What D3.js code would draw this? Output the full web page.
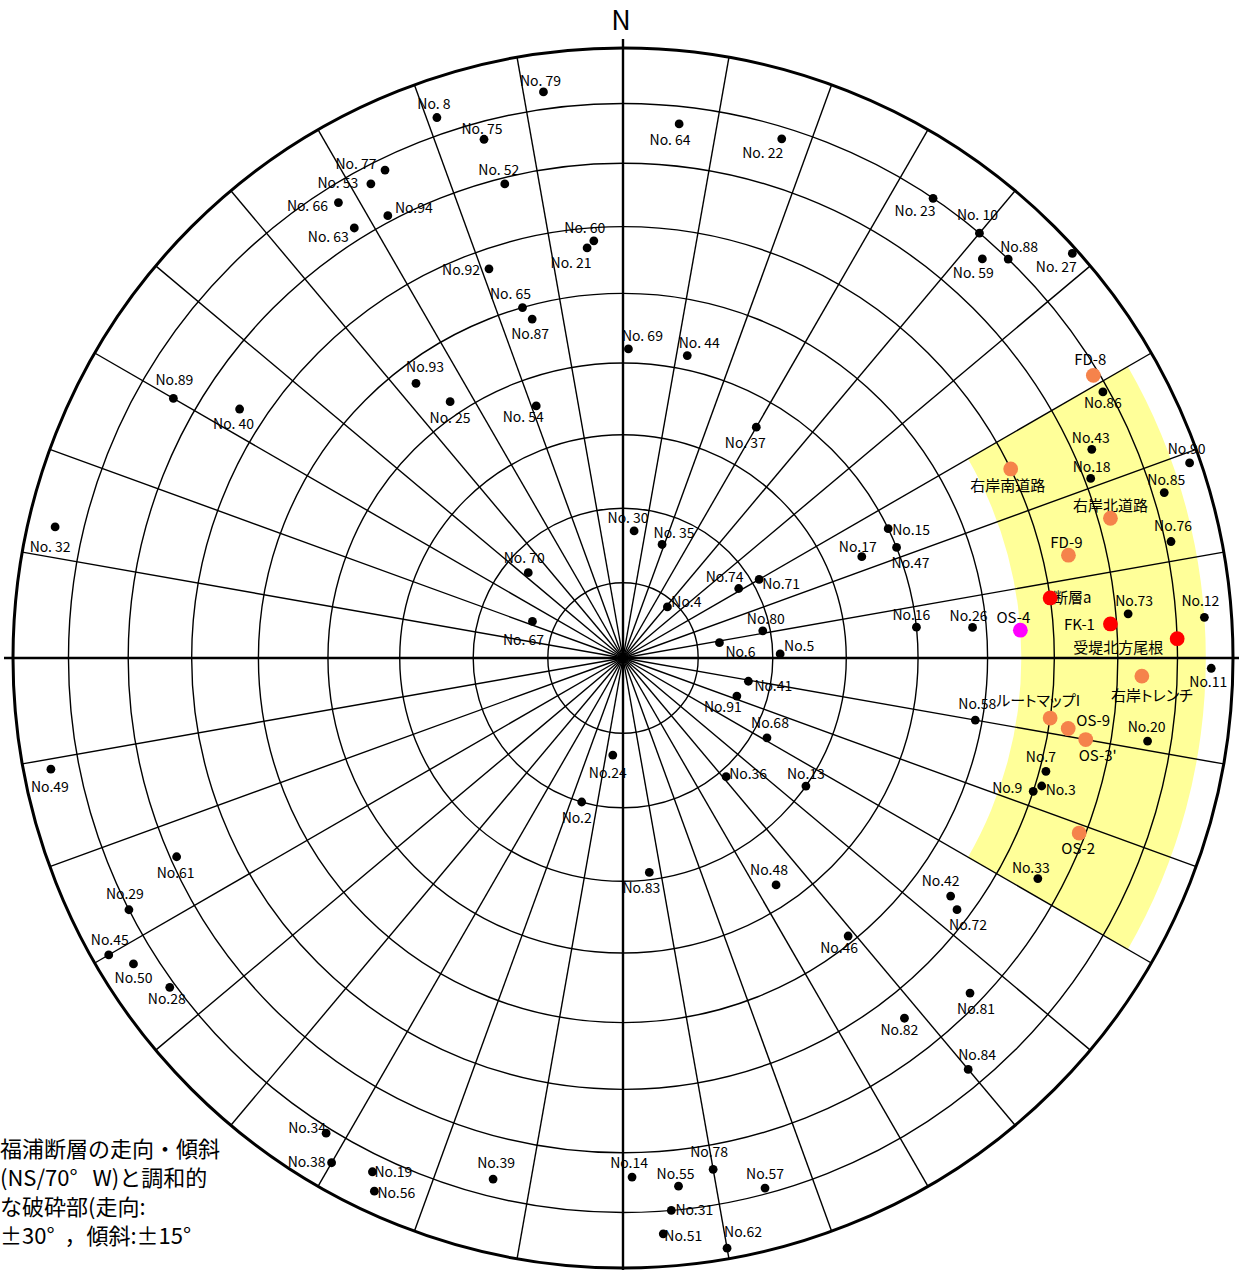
<!DOCTYPE html>
<html>
<head>
<meta charset="utf-8">
<script src="https://cdn.jsdelivr.net/npm/d3@7"></script>
<style>
  body { margin: 0; background: #fff; }
  svg { display: block; }
  text { font-family: "Noto Sans CJK JP", "Noto Sans", sans-serif; fill: #000; }
</style>
</head>
<body>
<svg id="net" width="1239" height="1270"></svg>
<script>
// Poles of fracture planes: [label, pole trend (deg, clockwise from N), dip (deg) = angle from the centre]
const blackPoles = [
  ["No. 79", 352, 83], ["No. 8", 341, 83], ["No. 75", 345, 77], ["No. 77", 334, 78],
  ["No. 53", 332, 77], ["No. 66", 328, 77], ["No. 63", 328, 72], ["No.94", 332, 71],
  ["No. 52", 346, 69], ["No. 60", 356, 58], ["No. 21", 355, 57], ["No.92", 341, 57],
  ["No. 65", 344, 50], ["No.87", 345, 48], ["No.93", 323, 47], ["No. 25", 326, 42],
  ["No. 54", 341, 36], ["No. 64", 6, 77], ["No. 22", 17, 78], ["No. 69", 1, 42],
  ["No. 44", 12, 42], ["No. 23", 34, 80], ["No. 10", 40, 80], ["No. 59", 42, 77],
  ["No.88", 44, 80], ["No. 27", 48, 89], ["No.86", 61, 79], ["No.89", 300, 74],
  ["No. 40", 303, 64], ["No. 32", 283, 85], ["No.49", 259, 85], ["No. 70", 312, 17],
  ["No. 67", 292, 13], ["No.24", 186, 13], ["No.2", 196, 20], ["No. 37", 30, 36],
  ["No. 30", 5, 17], ["No. 35", 19, 16], ["No.74", 59, 18], ["No.71", 60, 21],
  ["No.4", 41, 9], ["No.80", 79, 19], ["No.6", 81, 13], ["No.5", 88.5, 21],
  ["No.41", 100.5, 17], ["No.91", 108.5, 16], ["No.68", 119, 22], ["No.36", 139, 21],
  ["No.13", 125, 30], ["No.15", 64, 40], ["No.47", 68, 40], ["No.17", 67, 35],
  ["No.16", 84, 40], ["No.43", 66, 73], ["No.18", 69, 71], ["No.90", 71, 88],
  ["No.85", 73, 82], ["No.76", 78, 81], ["No.73", 85, 72], ["No.12", 86, 85],
  ["No.26", 85, 48], ["No.11", 91, 86], ["No.58", 100, 49], ["No.20", 99, 76],
  ["No.7", 105, 61], ["No.3", 107, 61], ["No.9", 108, 60], ["No.61", 246, 69],
  ["No.29", 243, 80], ["No.45", 240, 87], ["No.50", 238, 84], ["No.28", 234, 81],
  ["No.34", 212, 81], ["No.38", 210, 85], ["No.19", 206, 83], ["No.56", 205, 86],
  ["No.39", 194, 77], ["No.83", 173, 29], ["No.48", 146, 37], ["No.46", 141, 49],
  ["No.82", 142, 64], ["No.14", 179, 74], ["No.78", 170, 74], ["No.55", 174, 76],
  ["No.57", 165, 79], ["No.31", 175, 80], ["No.51", 176, 84], ["No.62", 170, 88],
  ["No.33", 118, 66], ["No.42", 126, 56], ["No.72", 127, 58], ["No.81", 134, 68],
  ["No.84", 140, 77]
];
const orangePoles = [
  ["FD-8", 59, 79], ["右岸南道路", 64, 60], ["右岸北道路", 74, 72], ["FD-9", 77, 64],
  ["右岸トレンチ", 92, 74], ["ルートマップI", 98, 60], ["OS-9", 99, 63],
  ["OS-3'", 100, 66], ["OS-2", 111, 69]
];
const redPoles = [["断層a", 82, 60], ["FK-1", 86, 69], ["受堤北方尾根", 88, 80]];
const magentaPoles = [["OS-4", 86, 55]];

// Net grid: small circles every 10 deg of dip, radial lines every 10 deg of trend
const gridDips = d3.range(10, 91, 10);
const gridTrends = d3.range(0, 360, 10);
// Band of fractures concordant with the Fukura fault (NS/70W): strike ±30, dip ±15
const bandTrend = [60, 120];
const bandDip = [55, 85];
const legendLines = ["福浦断層の走向・傾斜", "(NS/70°   W)と調和的", "な破砕部(走向:", "±30°  ，傾斜:±15°"];

// Label placement relative to each pole symbol
const labelOffset = {
  "No. 79": [-3, -10], "No. 8": [-3, -13], "No. 75": [-2, -9], "No. 77": [-29, -5],
  "No. 53": [-33, 0], "No. 66": [-31, 4], "No. 63": [-26, 10], "No.94": [26, -7],
  "No. 52": [-6, -13], "No. 60": [-9, -12], "No. 21": [-16, 16], "No.92": [-28, 2],
  "No. 65": [-12, -13], "No.87": [-2, 16], "No.93": [9, -15], "No. 25": [0, 17],
  "No. 54": [-13, 12], "No. 64": [-9, 17], "No. 22": [-19, 15], "No. 69": [14, -12],
  "No. 44": [12, -12], "No. 23": [-18, 14], "No. 10": [-2, -17], "No. 59": [-9, 15],
  "No.88": [11, -11], "No. 27": [-16, 15], "FD-8": [-3, -15], "No.86": [0, 12],
  "No.89": [1, -17], "No. 40": [-6, 16], "No. 32": [-5, 21], "No.49": [-1, 19],
  "No. 70": [-4, -14], "No. 67": [-9, 20], "No.24": [-5, 19], "No.2": [-5, 17],
  "No. 37": [-11, 17], "No. 30": [-6, -12], "No. 35": [12, -10], "No.74": [-14, -11],
  "No.71": [22, 6], "No.4": [19, -4], "No.80": [3, -11], "No.6": [21, 10],
  "No.5": [19, -7], "No.41": [25, 6], "No.91": [-14, 12], "No.68": [3, -14],
  "No.36": [22, -2], "No.13": [0, -11], "No.15": [23, 2], "No.47": [14, 17],
  "No.17": [-4, -9], "No.16": [-5, -11], "右岸南道路": [-3, 18], "No.43": [-1, -10],
  "No.18": [1, -10], "No.90": [-3, -13], "No.85": [2, -12], "右岸北道路": [0, -12],
  "No.76": [2, -15], "FD-9": [-2, -12], "断層a": [22, 1], "No.73": [6, -12],
  "No.12": [-4, -15], "No.26": [-4, -10], "OS-4": [-7, -12], "FK-1": [-31, 2],
  "受堤北方尾根": [-59, 10], "No.11": [-3, 15], "右岸トレンチ": [10, 20], "No.58": [2, -15],
  "ルートマップI": [-12, -17], "OS-9": [25, -7], "OS-3'": [12, 17], "No.20": [-1, -13],
  "No.7": [-5, -13], "No.3": [19, 5], "No.9": [-26, -2], "OS-2": [-1, 16],
  "No.61": [-1, 17], "No.29": [-4, -15], "No.45": [1, -14], "No.50": [0, 15],
  "No.28": [-3, 13], "No.34": [-19, -4], "No.38": [-25, 0], "No.19": [21, 1],
  "No.56": [22, 3], "No.39": [3, -15], "No.83": [-8, 17], "No.48": [-7, -14],
  "No.46": [-9, 13], "No.82": [-5, 13], "No.14": [-3, -13], "No.78": [-4, -16],
  "No.55": [-3, -11], "No.57": [0, -13], "No.31": [23, 1], "No.51": [20, 3],
  "No.62": [16, -15], "No.33": [-7, -10], "No.42": [-10, -14], "No.72": [11, 16],
  "No.81": [6, 17], "No.84": [9, -13]
};

const cx = 623, cy = 658, R = 610;
const svg = d3.select("#net");

// Equal-area (Schmidt) polar net: r = R * sqrt(2) * sin(dip / 2)
const rScale = d3.scaleLinear().domain([0, 1]).range([0, R]);
const radius = dip => rScale(Math.SQRT2 * Math.sin(dip * Math.PI / 360));
const angle = d3.scaleLinear().domain([0, 360]).range([0, 2 * Math.PI]);
const project = (trend, dip) => d3.pointRadial(angle(trend), radius(dip));

const net = svg.append("g").attr("transform", `translate(${cx},${cy})`);

// concordant band
net.append("path")
  .attr("d", d3.arc()
    .innerRadius(radius(bandDip[0])).outerRadius(radius(bandDip[1]))
    .startAngle(angle(bandTrend[0])).endAngle(angle(bandTrend[1]))())
  .attr("fill", "#ffff99");

// radial lines
net.selectAll("line.radial")
  .data(gridTrends.filter(t => t % 90 !== 0))
  .join("line").attr("class", "radial")
  .attr("x1", 0).attr("y1", 0)
  .attr("x2", t => project(t, 90)[0]).attr("y2", t => project(t, 90)[1])
  .attr("stroke", "#000").attr("stroke-width", 1.4);

// small circles
net.selectAll("circle.dip")
  .data(gridDips)
  .join("circle").attr("class", "dip")
  .attr("r", d => radius(d))
  .attr("fill", "none").attr("stroke", "#000")
  .attr("stroke-width", d => d === 90 ? 3 : 1.4);

// N-S and E-W axes
const ext = radius(90) + 9;
net.append("line").attr("x1", 0).attr("x2", 0).attr("y1", -ext).attr("y2", ext)
  .attr("stroke", "#000").attr("stroke-width", 2.4);
net.append("line").attr("y1", 0).attr("y2", 0).attr("x1", -ext).attr("x2", ext)
  .attr("stroke", "#000").attr("stroke-width", 2.4);

svg.append("text").attr("x", cx - 2).attr("y", 30).attr("text-anchor", "middle")
  .style("font-size", "27px").text("N");

const groups = [
  { data: blackPoles, fill: "#000", r: 4.4, size: 14 },
  { data: orangePoles, fill: "#f5834b", r: 7.4, size: 15 },
  { data: redPoles, fill: "#ff0000", r: 7.4, size: 15 },
  { data: magentaPoles, fill: "#ff00ff", r: 7.4, size: 15 }
];

groups.forEach(g => {
  const sel = net.append("g");
  sel.selectAll("text")
    .data(g.data)
    .join("text")
    .attr("x", d => project(d[1], d[2])[0] + (labelOffset[d[0]] || [0, -12])[0])
    .attr("y", d => project(d[1], d[2])[1] + (labelOffset[d[0]] || [0, -12])[1] - 2)
    .attr("text-anchor", "middle")
    .attr("dominant-baseline", "central")
    .style("font-size", g.size + "px")
    .style("font-feature-settings", d => /[ァ-ヶー]/.test(d[0]) ? '"palt"' : null)
    .text(d => d[0]);
  sel.selectAll("circle")
    .data(g.data)
    .join("circle")
    .attr("cx", d => project(d[1], d[2])[0])
    .attr("cy", d => project(d[1], d[2])[1])
    .attr("r", g.r)
    .attr("fill", g.fill);
});

// caption for the shaded band
svg.append("g").selectAll("text")
  .data(legendLines)
  .join("text")
  .attr("x", 0)
  .attr("y", (d, i) => 1147 + i * 29)
  .attr("dominant-baseline", "central")
  .style("font-size", "22px")
  .style("white-space", "pre")
  .text(d => d);
</script>
</body>
</html>
